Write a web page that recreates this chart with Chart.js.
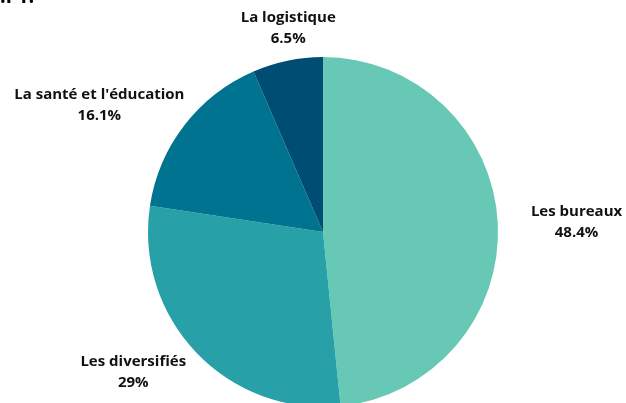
<!DOCTYPE html>
<html>
<head>
<meta charset="utf-8">
<script src="https://cdn.jsdelivr.net/npm/chart.js@4"></script>
<style>
  html, body { margin: 0; padding: 0; background: #fff; overflow: hidden; }
  #wrap { position: relative; width: 626px; height: 410px; }
  #cut { position: absolute; left: 0px; top: -18px; font: bold 20px "Open Sans"; color: #000; }
</style>
</head>
<body>
<div id="wrap">
  <canvas id="chart" width="626" height="410"></canvas>
  <div id="cut">.l 1.</div>
</div>
<script>
// data
var labels = ['Les bureaux', 'Les diversifiés', "La santé et l'éducation", 'La logistique'];
var values = [48.4, 29, 16.1, 6.5];
var valueText = ['48.4%', '29%', '16.1%', '6.5%'];
var colors = ['#67c9b5', '#27a0a8', '#007391', '#004d74'];

// label placement: distance from centre in radii, and turn off the mid angle (deg)
var labelDist = [1.45, 1.35, 1.47, 1.18];
var labelTurn = [0.6, 7, -8, 2];

// draw the outside labels from each arc's own angle
var outsideLabels = {
  id: 'outsideLabels',
  afterDatasetsDraw: function(chart) {
    var ctx = chart.ctx;
    var arcs = chart.getDatasetMeta(0).data;
    ctx.save();
    ctx.font = 'bold 15px "Open Sans"';
    ctx.fillStyle = '#111';
    ctx.textAlign = 'center';
    ctx.textBaseline = 'middle';
    arcs.forEach(function(arc, i) {
      var mid = (arc.startAngle + arc.endAngle) / 2 + labelTurn[i] * Math.PI / 180;
      var r = arc.outerRadius * labelDist[i];
      var x = arc.x + Math.cos(mid) * r;
      var y = arc.y + Math.sin(mid) * r;
      ctx.fillText(labels[i], x, y - 10.5);
      ctx.fillText(valueText[i], x, y + 10.5);
    });
    ctx.restore();
  }
};

var chart = new Chart(document.getElementById('chart').getContext('2d'), {
  type: 'pie',
  data: {
    labels: labels,
    datasets: [{
      data: values,
      backgroundColor: colors,
      borderWidth: 0
    }]
  },
  options: {
    responsive: false,
    animation: false,
    layout: { padding: { top: 57, bottom: 3, left: 148, right: 128 } },
    plugins: {
      legend: { display: false },
      tooltip: { enabled: false }
    }
  },
  plugins: [outsideLabels]
});
</script>
</body>
</html>
